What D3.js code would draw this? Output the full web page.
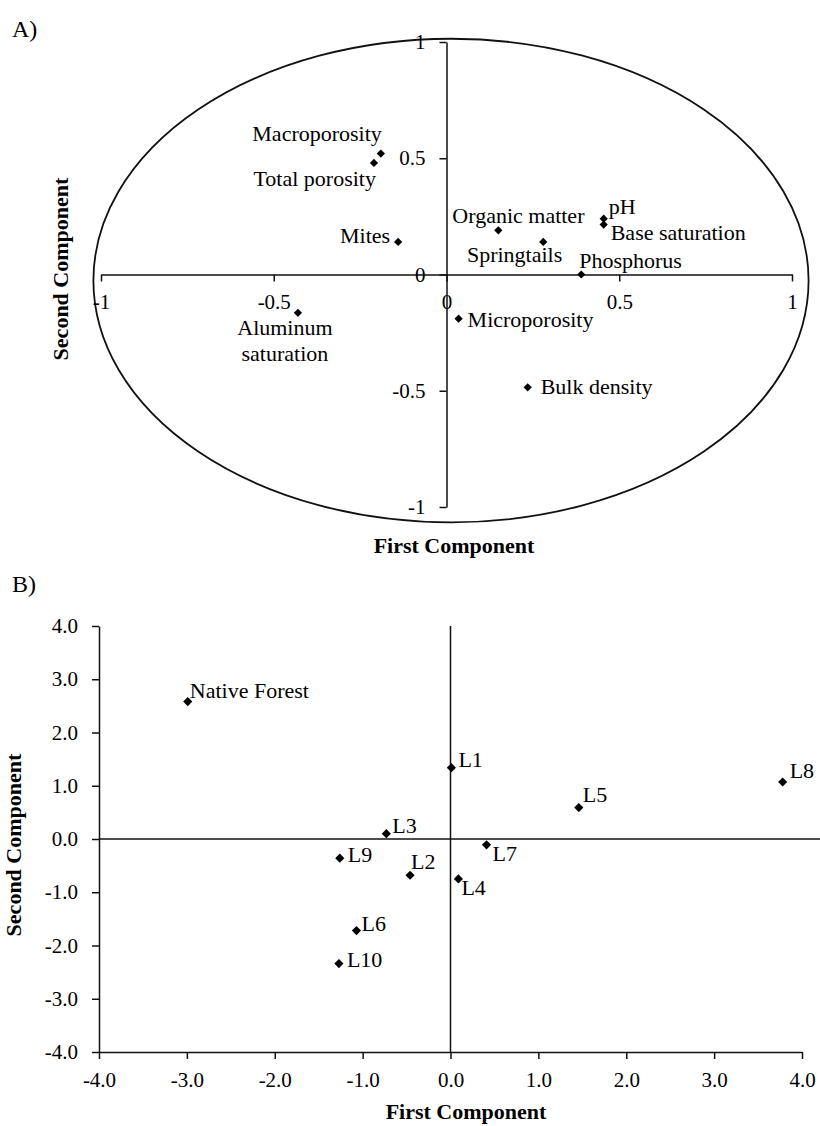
<!DOCTYPE html>
<html>
<head>
<meta charset="utf-8">
<script src="https://cdnjs.cloudflare.com/ajax/libs/d3/7.8.5/d3.min.js"></script>
<style>
body { margin: 0; background: #fff; }
text { font-family: "Liberation Serif", "Times New Roman", serif; fill: #000; }
</style>
</head>
<body>
<div id="chart"></div>
<script>
// Panel A: loadings of the soil variables on the first two components
var varNames = ["Macroporosity", "Total porosity", "Mites", "Organic matter", "Springtails", "pH",
	"Base saturation", "Phosphorus", "Aluminum saturation", "Microporosity", "Bulk density"];
var varPC1 = [-0.19, -0.21, -0.14, 0.15, 0.28, 0.455, 0.455, 0.39, -0.43, 0.035, 0.235];
var varPC2 = [0.52, 0.48, 0.14, 0.19, 0.14, 0.24, 0.215, 0.0, -0.165, -0.19, -0.485];
var loadTicks = [-1, -0.5, 0, 0.5, 1];

// correlation circle (centre and radii in loading units)
var circleCenter = [0.013, -0.026];
var circleRadius = [1.035, 1.04];

// Panel B: scores of the sites
var siteNames = ["Native Forest", "L1", "L2", "L3", "L4", "L5", "L6", "L7", "L8", "L9", "L10"];
var sitePC1 = [-2.99, 0.01, -0.46, -0.73, 0.09, 1.46, -1.07, 0.41, 3.78, -1.26, -1.27];
var sitePC2 = [2.58, 1.34, -0.68, 0.10, -0.75, 0.59, -1.72, -0.11, 1.07, -0.36, -2.34];
var scoreTicks = [-4, -3, -2, -1, 0, 1, 2, 3, 4];

// Label placement in pixels from the marker: [dx, dy, anchor]
var varLabelPos = {
	"Macroporosity": [1, -13, "end"],
	"Total porosity": [2, 23, "end"],
	"Mites": [-8, 1, "end"],
	"Organic matter": [-46, -7, "start"],
	"Springtails": [19, 20, "end"],
	"pH": [5, -5, "start"],
	"Base saturation": [7, 15, "start"],
	"Phosphorus": [-2, -7, "start"],
	"Aluminum saturation": [-13, 22, "middle"],
	"Microporosity": [9, 8, "start"],
	"Bulk density": [13, 7, "start"]
};
var siteLabelPos = {
	"Native Forest": [2, -4], "L1": [7, -1], "L2": [1, -6], "L3": [6, -1],
	"L4": [3, 16], "L5": [4, -6], "L6": [5, 0], "L7": [6, 16],
	"L8": [7, -4], "L9": [8, 4], "L10": [8, 3]
};

var width = 820, height = 1126;

var svg = d3.select("#chart").append("svg")
	.attr("width", width)
	.attr("height", height);

// Scales
var xA = d3.scaleLinear().domain([-1, 1]).range([101, 792]);
var yA = d3.scaleLinear().domain([-1, 1]).range([507, 42]);
var xB = d3.scaleLinear().domain([-4, 4]).range([99, 802]);
var yB = d3.scaleLinear().domain([-4, 4]).range([1052, 626]);

var diamondA = d3.symbol().type(d3.symbolSquare).size(34);
var diamondB = d3.symbol().type(d3.symbolSquare).size(42);

function styleAxis(g) {
	g.select(".domain").attr("stroke", "#111").attr("stroke-width", 1.5);
	g.selectAll(".tick line").attr("stroke", "#111").attr("stroke-width", 1.5);
	g.selectAll(".tick text")
		.attr("font-family", "'Liberation Serif', 'Times New Roman', serif")
		.attr("font-size", 21)
		.attr("fill", "#000");
}

// ---------- Panel A ----------
var gA = svg.append("g");

gA.append("text")
	.attr("x", 12).attr("y", 37)
	.attr("font-size", 24)
	.text("A)");

gA.append("ellipse")
	.attr("cx", xA(circleCenter[0]))
	.attr("cy", yA(circleCenter[1]))
	.attr("rx", xA(circleRadius[0]) - xA(0))
	.attr("ry", yA(0) - yA(circleRadius[1]))
	.attr("fill", "none")
	.attr("stroke", "#111")
	.attr("stroke-width", 1.8);

gA.append("g")
	.attr("transform", "translate(0," + yA(0) + ")")
	.call(d3.axisBottom(xA).tickValues(loadTicks).tickFormat(function(d) { return String(d); })
		.tickSizeInner(7).tickSizeOuter(0).tickPadding(13))
	.call(styleAxis);

gA.append("g")
	.attr("transform", "translate(" + xA(0) + ",0)")
	.call(d3.axisLeft(yA).tickValues(loadTicks).tickFormat(function(d) { return String(d); })
		.tickSizeInner(7).tickSizeOuter(0).tickPadding(14))
	.call(styleAxis);

var loadings = varNames.map(function(n, i) {
	return {name: n, x: varPC1[i], y: varPC2[i]};
});

gA.selectAll("path.pt")
	.data(loadings)
	.enter().append("path")
	.attr("class", "pt")
	.attr("d", diamondA)
	.attr("fill", "#000")
	.attr("transform", function(d) {
		return "translate(" + xA(d.x) + "," + yA(d.y) + ") rotate(45)";
	});

loadings.forEach(function(d) {
	var p = varLabelPos[d.name];
	var t = gA.append("text")
		.attr("font-size", 22)
		.attr("text-anchor", p[2])
		.attr("x", xA(d.x) + p[0])
		.attr("y", yA(d.y) + p[1]);
	// two-line label for aluminum saturation
	if (d.name == "Aluminum saturation") {
		t.append("tspan").attr("x", xA(d.x) + p[0]).text("Aluminum");
		t.append("tspan").attr("x", xA(d.x) + p[0]).attr("dy", 26).text("saturation");
	} else {
		t.text(d.name);
	}
});

gA.append("text")
	.attr("x", 454).attr("y", 553)
	.attr("text-anchor", "middle")
	.attr("font-size", 22)
	.attr("font-weight", "bold")
	.text("First Component");

gA.append("text")
	.attr("transform", "translate(68,269) rotate(-90)")
	.attr("text-anchor", "middle")
	.attr("font-size", 22)
	.attr("font-weight", "bold")
	.text("Second Component");

// ---------- Panel B ----------
var gB = svg.append("g");

gB.append("text")
	.attr("x", 12).attr("y", 592)
	.attr("font-size", 24)
	.text("B)");

gB.append("g")
	.attr("transform", "translate(0," + yB(-4) + ")")
	.call(d3.axisBottom(xB).tickValues(scoreTicks).tickFormat(function(d) { return d.toFixed(1); })
		.tickSizeInner(7).tickSizeOuter(0).tickPadding(13))
	.call(styleAxis);

gB.append("g")
	.attr("transform", "translate(" + xB(-4) + ",0)")
	.call(d3.axisLeft(yB).tickValues(scoreTicks).tickFormat(function(d) { return d.toFixed(1); })
		.tickSizeInner(7).tickSizeOuter(0).tickPadding(14))
	.call(styleAxis);

// zero lines; the horizontal one runs out to the page edge
gB.append("line")
	.attr("x1", xB(-4)).attr("x2", width)
	.attr("y1", yB(0)).attr("y2", yB(0))
	.attr("stroke", "#111").attr("stroke-width", 1.5);

gB.append("line")
	.attr("x1", xB(0)).attr("x2", xB(0))
	.attr("y1", yB(4)).attr("y2", yB(-4))
	.attr("stroke", "#111").attr("stroke-width", 1.5);

var scores = siteNames.map(function(n, i) {
	return {name: n, x: sitePC1[i], y: sitePC2[i]};
});

gB.selectAll("path.pt")
	.data(scores)
	.enter().append("path")
	.attr("class", "pt")
	.attr("d", diamondB)
	.attr("fill", "#000")
	.attr("transform", function(d) {
		return "translate(" + xB(d.x) + "," + yB(d.y) + ") rotate(45)";
	});

gB.selectAll("text.site")
	.data(scores)
	.enter().append("text")
	.attr("class", "site")
	.attr("font-size", 22)
	.attr("x", function(d) { return xB(d.x) + siteLabelPos[d.name][0]; })
	.attr("y", function(d) { return yB(d.y) + siteLabelPos[d.name][1]; })
	.text(function(d) { return d.name; });

gB.append("text")
	.attr("x", 466).attr("y", 1119)
	.attr("text-anchor", "middle")
	.attr("font-size", 22)
	.attr("font-weight", "bold")
	.text("First Component");

gB.append("text")
	.attr("transform", "translate(21,845) rotate(-90)")
	.attr("text-anchor", "middle")
	.attr("font-size", 22)
	.attr("font-weight", "bold")
	.text("Second Component");
</script>
</body>
</html>
